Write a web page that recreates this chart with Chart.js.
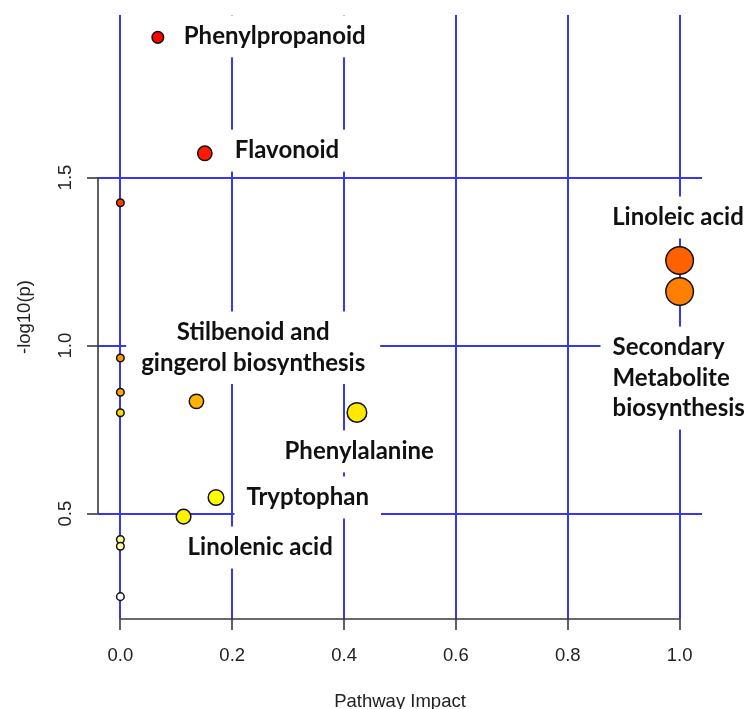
<!DOCTYPE html>
<html>
<head>
<meta charset="utf-8">
<script src="https://cdn.jsdelivr.net/npm/chart.js@4.4.1/dist/chart.umd.min.js"></script>
<style>
  html, body { margin: 0; padding: 0; background: #fff; }
  #wrap { width: 750px; height: 709px; }
</style>
</head>
<body>
<div id="wrap"><canvas id="chart" width="750" height="709"></canvas></div>
<script>
/* pathway analysis: impact vs -log10(p) */

const pathwayImpact = [0.067, 0.151, 0.0, 1.0, 1.0, 0.0, 0.0, 0.136, 0.0, 0.423, 0.171, 0.113, 0.0, 0.0, 0.0];
const negLogP       = [1.917, 1.572, 1.425, 1.253, 1.161, 0.963, 0.861, 0.834, 0.800, 0.801, 0.548, 0.491, 0.423, 0.403, 0.253];
const xTicks = [0.0, 0.2, 0.4, 0.6, 0.8, 1.0];
const yTicks = [0.5, 1.0, 1.5];
const labelTexts = [
    ['Phenylpropanoid'],
    ['Flavonoid'],
    ['Linoleic acid'],
    ['Secondary', 'Metabolite', 'biosynthesis'],
    ['Stilbenoid and', 'gingerol biosynthesis'],
    ['Phenylalanine'],
    ['Tryptophan'],
    ['Linolenic acid'],
];

/* ── styles ── */
const dotFill   = ['#FF0000', '#FF1A00', '#FF3C00', '#FF6000', '#FF7F00', '#FF9500', '#FFA800', '#FFB400',
                   '#FFD800', '#FFE800', '#FFFF00', '#FFF200', '#FFFF80', '#FFFFA8', '#FFFFFF'];
const dotRadius = [5.8, 7.2, 3.8, 13.8, 13.8, 3.8, 3.8, 7.2, 3.8, 9.8, 7.8, 7.3, 3.8, 3.8, 3.8];
// label anchor in data units (text centre, or left edge when align is left)
const labelPlace = [
    { x: 0.276, y: 1.920, align: 'center' },
    { x: 0.298, y: 1.580, align: 'center' },
    { x: 0.997, y: 1.381, align: 'center' },
    { x: 0.880, y: 0.994, align: 'left' },
    { x: 0.2375, y: 1.039, align: 'center', padL: 15, padR: 15 },
    { x: 0.427, y: 0.685, align: 'center' },
    { x: 0.335, y: 0.548, align: 'center' },
    { x: 0.250, y: 0.399, align: 'center', padR: 6 },
];

const GRID_BLUE  = 'rgb(55,55,238)';
const AXIS_GREY  = '#3a3a3a';
const LABEL_FONT = 'bold 24px Lato';
const AXIS_FONT  = '18.5px "Liberation Sans"';
const LINE_H     = 30.5;

/* ── R style axis ranges (4% extension) ── */
const xr = [Math.min(...pathwayImpact), Math.max(...pathwayImpact)];
const yr = [Math.min(...negLogP), Math.max(...negLogP)];
const xPad = (xr[1] - xr[0]) * 0.04, yPad = (yr[1] - yr[0]) * 0.04;

const overlay = {
    id: 'overlay',
    beforeDatasetsDraw(chart) {
        const { ctx, scales: { x, y } } = chart;
        ctx.save();
        ctx.font = LABEL_FONT;
        ctx.textBaseline = 'middle';
        labelTexts.forEach((lines, i) => {
            const p  = labelPlace[i];
            const px = x.getPixelForValue(p.x), py = y.getPixelForValue(p.y);
            const w  = Math.max(...lines.map(t => ctx.measureText(t).width));
            const left = p.align === 'left' ? px : px - w / 2;
            const padL = p.padL ?? 12, padR = p.padR ?? 12;
            const top = py - 21, bottom = py + (lines.length - 1) * LINE_H + 21;
            ctx.fillStyle = '#fff';
            ctx.fillRect(left - padL, top, w + padL + padR, bottom - top);
            ctx.fillStyle = '#111';
            ctx.textAlign = p.align;
            lines.forEach((t, j) => ctx.fillText(t, px, py + j * LINE_H));
        });
        ctx.restore();
    },
    afterDraw(chart) {
        const { ctx, chartArea: ca, scales: { x, y } } = chart;
        ctx.save();
        // axis lines only between first and last tick
        ctx.strokeStyle = AXIS_GREY;
        ctx.lineWidth = 1.6;
        ctx.beginPath();
        ctx.moveTo(x.getPixelForValue(xTicks[0]), ca.bottom);
        ctx.lineTo(x.getPixelForValue(xTicks[xTicks.length - 1]), ca.bottom);
        ctx.moveTo(ca.left, y.getPixelForValue(yTicks[0]));
        ctx.lineTo(ca.left, y.getPixelForValue(yTicks[yTicks.length - 1]));
        ctx.stroke();

        ctx.fillStyle = '#222';
        ctx.font = AXIS_FONT;
        ctx.textAlign = 'center';
        ctx.textBaseline = 'middle';
        xTicks.forEach(v => ctx.fillText(v.toFixed(1), x.getPixelForValue(v), ca.bottom + 36.5));
        yTicks.forEach(v => {
            ctx.save();
            ctx.translate(ca.left - 32, y.getPixelForValue(v));
            ctx.rotate(-Math.PI / 2);
            ctx.fillText(v.toFixed(1), 0, 0);
            ctx.restore();
        });
        // axis titles
        ctx.textBaseline = 'alphabetic';
        ctx.fillText('Pathway Impact', (ca.left + ca.right) / 2, ca.bottom + 88);
        ctx.save();
        ctx.translate(ca.left - 73, (ca.top + ca.bottom) / 2);
        ctx.rotate(-Math.PI / 2);
        ctx.textBaseline = 'middle';
        ctx.fillText('-log10(p)', 0, 0);
        ctx.restore();
        ctx.restore();
    }
};

new Chart(document.getElementById('chart').getContext('2d'), {
    type: 'scatter',
    data: {
        datasets: [{
            data: pathwayImpact.map((v, i) => ({ x: v, y: negLogP[i] })),
            pointBackgroundColor: dotFill,
            pointRadius: dotRadius,
            pointBorderColor: '#111',
            pointBorderWidth: 1.5,
            pointHoverRadius: dotRadius,
        }]
    },
    options: {
        responsive: false,
        animation: false,
        events: [],
        layout: { autoPadding: false, padding: { left: 87, right: 48, top: 15, bottom: 79 } },
        plugins: { legend: { display: false }, tooltip: { enabled: false } },
        scales: {
            x: {
                type: 'linear', min: xr[0] - xPad, max: xr[1] + xPad,
                afterBuildTicks: s => { s.ticks = xTicks.map(v => ({ value: v })); },
                ticks: { display: false },
                border: { display: false },
                grid: { color: GRID_BLUE, lineWidth: 2, tickLength: 11, tickColor: AXIS_GREY, tickWidth: 1.6 },
            },
            y: {
                type: 'linear', min: yr[0] - yPad, max: yr[1] + yPad,
                afterBuildTicks: s => { s.ticks = yTicks.map(v => ({ value: v })); },
                ticks: { display: false },
                border: { display: false },
                grid: { color: GRID_BLUE, lineWidth: 2, tickLength: 11, tickColor: AXIS_GREY, tickWidth: 1.6 },
            }
        }
    },
    plugins: [overlay]
});
</script>
</body>
</html>
